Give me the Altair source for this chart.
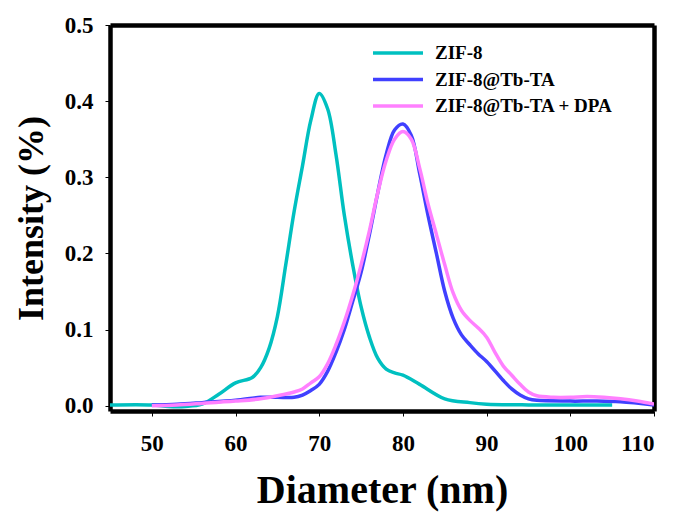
import altair as alt
import pandas as pd

# Particle size distributions (DLS): diameter in nm vs. intensity
zif8_d = [45, 50, 52, 54, 56, 58, 60, 62, 63, 64, 65, 66, 67, 68, 69, 70, 71, 72, 73, 74,
          75, 76, 77, 78, 79, 80, 82, 85, 88, 90, 95, 100, 105]
zif8_i = [0.001, 0.001, -0.001, -0.001, 0.002, 0.015, 0.030, 0.037, 0.050, 0.075, 0.117,
          0.185, 0.255, 0.315, 0.375, 0.410, 0.390, 0.330, 0.250, 0.185, 0.130, 0.090,
          0.062, 0.048, 0.043, 0.040, 0.028, 0.009, 0.004, 0.002, 0.001, 0.001, 0.001]

tb_d = [50, 53, 56, 60, 63, 65, 67, 68, 69, 70, 71, 72, 73, 74, 75, 76, 77, 78, 79, 80,
        81, 82, 83, 84, 85, 86, 87, 88, 89, 90, 92, 93, 94, 95, 96, 100, 103, 106, 110]
tb_i = [0.001, 0.002, 0.004, 0.007, 0.011, 0.011, 0.011, 0.014, 0.020, 0.028, 0.045, 0.070,
        0.100, 0.137, 0.175, 0.225, 0.280, 0.330, 0.362, 0.370, 0.355, 0.305, 0.250, 0.200,
        0.150, 0.115, 0.093, 0.080, 0.068, 0.058, 0.033, 0.022, 0.014, 0.009, 0.007, 0.006,
        0.006, 0.005, 0.001]

dpa_d = [50, 53, 56, 60, 63, 65, 67, 68, 69, 70, 71, 72, 73, 74, 75, 76, 77, 78, 79, 80,
         81, 82, 83, 84, 85, 86, 87, 88, 89, 90, 91, 92, 93, 94, 95, 96, 98, 100, 102, 104,
         106, 108, 110]
dpa_i = [0.000, 0.001, 0.003, 0.006, 0.009, 0.013, 0.018, 0.022, 0.030, 0.038, 0.055, 0.080,
         0.110, 0.145, 0.185, 0.230, 0.280, 0.322, 0.350, 0.360, 0.350, 0.312, 0.265, 0.225,
         0.185, 0.148, 0.125, 0.112, 0.102, 0.090, 0.070, 0.052, 0.040, 0.028, 0.018, 0.013,
         0.011, 0.011, 0.012, 0.011, 0.009, 0.006, 0.002]

series = ["ZIF-8", "ZIF-8@Tb-TA", "ZIF-8@Tb-TA + DPA"]
colors = ["#00C0C0", "#4040FF", "#FF80FF"]

rows = []
for name, ds, vs in zip(series, [zif8_d, tb_d, dpa_d], [zif8_i, tb_i, dpa_i]):
    for d, v in zip(ds, vs):
        rows.append({"Sample": name, "Diameter": d, "Intensity": v})
df = pd.DataFrame(rows)

FONT = "Liberation Serif"
W, H = 544, 386
FRAME = 4.5
color_scale = alt.Scale(domain=series, range=colors)
x_scale = alt.Scale(domain=[45, 110], nice=False, zero=False)
y_scale = alt.Scale(domain=[-0.007, 0.5], nice=False, zero=False)

lines = alt.Chart(df).mark_line(strokeWidth=3.5, interpolate="catmull-rom", clip=True).encode(
    x=alt.X("Diameter:Q", scale=x_scale,
            axis=alt.Axis(title="Diameter (nm)", values=[50, 60, 70, 80, 90, 100, 110],
                          format="d", grid=False, domain=True, domainColor="black",
                          domainWidth=FRAME, tickSize=5, tickWidth=1,
                          tickColor="black", labelFont=FONT, labelFontSize=23,
                          labelFontWeight="bold", labelColor="black", labelPadding=16,
                          titleFont=FONT, titleFontSize=40, titleFontWeight="bold",
                          titleColor="black", titlePadding=15)),
    y=alt.Y("Intensity:Q", scale=y_scale,
            axis=alt.Axis(title="Intensity (%)", values=[0, 0.1, 0.2, 0.3, 0.4, 0.5],
                          format=".1f", grid=False, domain=True, domainColor="black",
                          domainWidth=FRAME, tickSize=5, tickWidth=1,
                          tickColor="black", labelFont=FONT, labelFontSize=23,
                          labelFontWeight="bold", labelColor="black", labelPadding=12,
                          titleFont=FONT, titleFontSize=36, titleFontWeight="bold",
                          titleColor="black", titlePadding=14)),
    color=alt.Color("Sample:N", scale=color_scale, legend=None),
)

# Top and right sides of the frame: bare axis lines on a transparent copy
bare = dict(grid=False, labels=False, ticks=False, title=None, domain=True,
            domainColor="black", domainWidth=FRAME)
box = alt.Chart(df).mark_line(opacity=0).encode(
    x=alt.X("Diameter:Q", scale=x_scale, axis=alt.Axis(orient="top", **bare)),
    y=alt.Y("Intensity:Q", scale=y_scale, axis=alt.Axis(orient="right", **bare)),
    detail="Sample:N",
)

# Legend drawn as short line samples with labels, placed in the upper right
leg = pd.DataFrame({"Sample": series, "row": [0, 1, 2]})
leg_y = alt.Y("row:Q", scale=alt.Scale(domain=[0, 2], range=[28, 81]), axis=None)
leg_lines = alt.Chart(leg).mark_rule(strokeWidth=3.5).encode(
    x=alt.value(263), x2=alt.value(313), y=leg_y,
    color=alt.Color("Sample:N", scale=color_scale, legend=None),
)
leg_text = alt.Chart(leg).mark_text(
    align="left", baseline="middle", font=FONT, fontSize=19, fontWeight="bold", color="black"
).encode(x=alt.value(325), y=leg_y, text="Sample:N")

legend = alt.layer(leg_lines, leg_text)

chart = alt.layer(
    alt.layer(lines, box).resolve_axis(x="independent", y="independent"),
    legend,
).resolve_scale(y="independent").properties(
    width=W, height=H,
    padding={"left": 110, "top": 25, "right": 20, "bottom": 103},
    autosize="none",
).configure(background="white").configure_view(strokeWidth=0)

chart.save("out.html", embed_options={"renderer": "svg", "actions": False})
